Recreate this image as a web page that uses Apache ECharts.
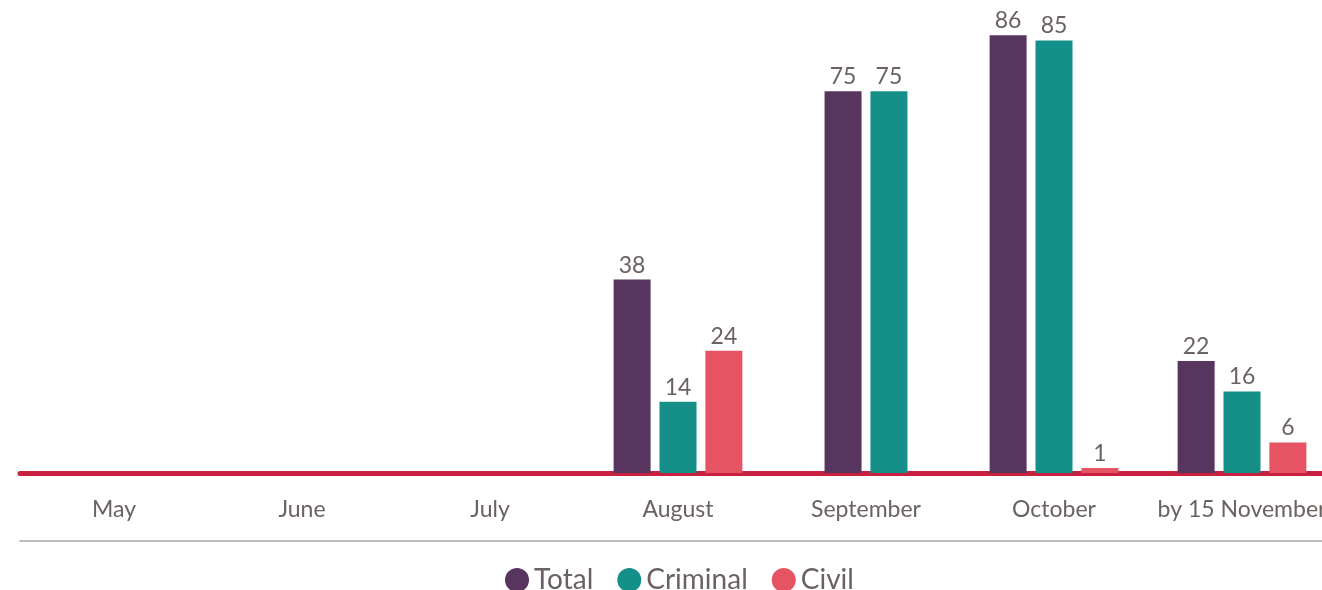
<!DOCTYPE html>
<html>
<head>
<meta charset="utf-8">
<script src="https://cdn.jsdelivr.net/npm/echarts@6/dist/echarts.min.js"></script>
<style>
  html, body { margin: 0; padding: 0; background: #fff; }
  #main { width: 1322px; height: 590px; }
</style>
</head>
<body>
<div id="main"></div>
<script>
const categories = ['May', 'June', 'July', 'August', 'September', 'October', 'by 15 November']
const total = [0, 0, 0, 38, 75, 86, 22]
const criminal = [0, 0, 0, 14, 75, 85, 16]
const civil = [0, 0, 0, 24, null, 1, 6]

const colors = { Total: '#58355e', Criminal: '#159089', Civil: '#e65463' }
const textColor = '#6a6261'
const font = 'Lato'

// months without a Civil value get their two bars centred on a second axis
const twoBar = civil.map(v => v === null)
const mainData = arr => arr.map((v, i) => (twoBar[i] ? null : v))
const pairData = arr => arr.map((v, i) => (twoBar[i] ? v : null))

const label = {
  show: true,
  position: 'top',
  distance: 3,
  color: textColor,
  fontFamily: font,
  fontSize: 23,
  formatter: p => (p.value ? p.value : '')
}

function bar (name, data, axis) {
  return {
    name: name,
    type: 'bar',
    xAxisIndex: axis,
    data: data,
    barWidth: 37,
    barGap: '24%',
    itemStyle: { color: colors[name] },
    label: label
  }
}

const chart = echarts.init(document.getElementById('main'))
const option = {
  animation: false,
  grid: { left: 20, right: -14, top: 15, bottom: 117, outerBoundsMode: 'none', containLabel: false },
  legend: {
    data: ['Total', 'Criminal', 'Civil'],
    top: 561,
    left: 500,
    icon: 'circle',
    itemWidth: 24,
    itemHeight: 24,
    itemGap: 24,
    textStyle: { color: textColor, fontFamily: font, fontSize: 28 }
  },
  xAxis: [
    {
      type: 'category',
      data: categories,
      axisLine: { lineStyle: { color: '#c8213f', width: 5 } },
      axisTick: { show: false },
      axisLabel: { color: textColor, fontFamily: font, fontSize: 23, margin: 25, interval: 0, hideOverlap: false }
    },
    {
      type: 'category',
      data: categories,
      position: 'bottom',
      offset: 68,
      axisLine: { lineStyle: { color: '#a6a6a6', width: 1.5 } },
      axisTick: { show: false },
      axisLabel: { show: false }
    }
  ],
  yAxis: {
    type: 'value',
    min: 0,
    max: 90,
    show: false
  },
  series: [
    bar('Total', mainData(total), 0),
    bar('Criminal', mainData(criminal), 0),
    bar('Civil', mainData(civil), 0),
    bar('Total', pairData(total), 1),
    bar('Criminal', pairData(criminal), 1)
  ]
}
chart.setOption(option)
</script>
</body>
</html>
